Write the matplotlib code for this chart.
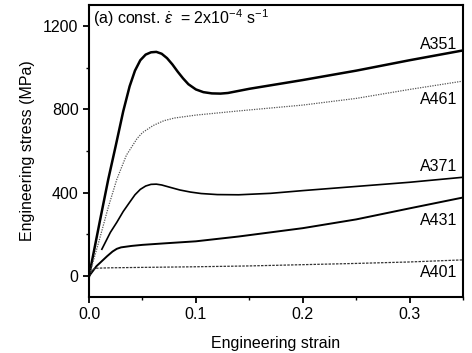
import matplotlib
matplotlib.use('Agg')
import matplotlib.pyplot as plt
from matplotlib.ticker import MultipleLocator

plt.rcParams['font.family'] = ['Liberation Sans', 'DejaVu Sans']
plt.rcParams['mathtext.fontset'] = 'custom'
plt.rcParams['mathtext.rm'] = 'Liberation Sans'
plt.rcParams['mathtext.it'] = 'Liberation Sans:italic'

# curvas (deformacion, tension en MPa)
e_351 = [0, 0.005, 0.01, 0.018, 0.025, 0.032, 0.038, 0.043, 0.048, 0.053, 0.058, 0.063,
         0.068, 0.073, 0.078, 0.083, 0.088, 0.093, 0.1, 0.107, 0.115, 0.123, 0.13,
         0.15, 0.2, 0.25, 0.3, 0.35]
s_351 = [0, 130, 260, 464, 625, 790, 910, 985, 1035, 1062, 1073, 1075,
         1066, 1045, 1015, 980, 948, 920, 895, 882, 876, 875, 878,
         898, 940, 985, 1035, 1082]

e_461 = [0, 0.005, 0.01, 0.018, 0.026, 0.035, 0.045, 0.05, 0.06, 0.07, 0.08, 0.1,
         0.12, 0.14, 0.2, 0.25, 0.3, 0.35]
s_461 = [0, 90, 180, 330, 464, 580, 660, 688, 722, 745, 758, 772,
         782, 792, 820, 852, 895, 935]

e_371 = [0.012, 0.02, 0.026, 0.032, 0.038, 0.043, 0.048, 0.053, 0.058, 0.063, 0.068,
         0.075, 0.085, 0.095, 0.105, 0.12, 0.14, 0.17, 0.2, 0.25, 0.3, 0.35]
s_371 = [129, 210, 258, 310, 354, 390, 416, 432, 440, 441, 437,
         427, 413, 403, 396, 391, 390, 397, 410, 430, 450, 474]

e_431 = [0, 0.007, 0.017, 0.022, 0.026, 0.03, 0.04, 0.05, 0.07, 0.1, 0.14, 0.2, 0.25,
         0.3, 0.35]
s_431 = [0, 48, 96, 118, 131, 138, 145, 150, 157, 167, 190, 230, 272, 325, 377]

e_401 = [0, 0.003, 0.006, 0.02, 0.05, 0.1, 0.15, 0.2, 0.25, 0.3, 0.35]
s_401 = [0, 30, 38, 40, 42, 45, 49, 55, 61, 68, 78]

nombres = ['A351', 'A461', 'A371', 'A431', 'A401']
y_nombres = [1109, 846, 526, 268, 19]

fig = plt.figure(figsize=(4.72, 3.53), dpi=100)
ax = fig.add_axes([0.1886, 0.1586, 0.7924, 0.8274])

ax.plot(e_351, s_351, color='black', lw=1.8)
ax.plot(e_461, s_461, color='#555555', lw=0.9, ls=(0, (1, 1)))
ax.plot(e_371, s_371, color='black', lw=1.2)
ax.plot(e_431, s_431, color='black', lw=1.4)
ax.plot(e_401, s_401, color='#333333', lw=0.9, ls=(0, (2, 1)))

for nombre, yy in zip(nombres, y_nombres):
    ax.text(0.345, yy, nombre, ha='right', va='center', fontsize=11.5)

ax.text(0.004, 1235, r'(a) const. $\dot{\varepsilon}$  = 2x10$^{-4}$ s$^{-1}$',
        ha='left', va='center', fontsize=11.5)

ax.set_xlim(0, 0.35)
ax.set_ylim(-100, 1300)
ax.xaxis.set_major_locator(MultipleLocator(0.1))
ax.xaxis.set_minor_locator(MultipleLocator(0.05))
ax.yaxis.set_major_locator(MultipleLocator(400))
ax.yaxis.set_minor_locator(MultipleLocator(200))
ax.set_xticks([0, 0.1, 0.2, 0.3])
ax.set_xticklabels(['0.0', '0.1', '0.2', '0.3'])
ax.tick_params(which='major', direction='out', length=4, width=1.3, labelsize=11.5)
ax.tick_params(which='minor', direction='out', length=2.5, width=1.0)
for s in ax.spines.values():
    s.set_linewidth(1.5)

ax.set_xlabel('Engineering strain', fontsize=11.5, labelpad=10)
ax.set_ylabel('Engineering stress (MPa)', fontsize=11.5, labelpad=6)

fig.savefig('out.png', dpi=100)
